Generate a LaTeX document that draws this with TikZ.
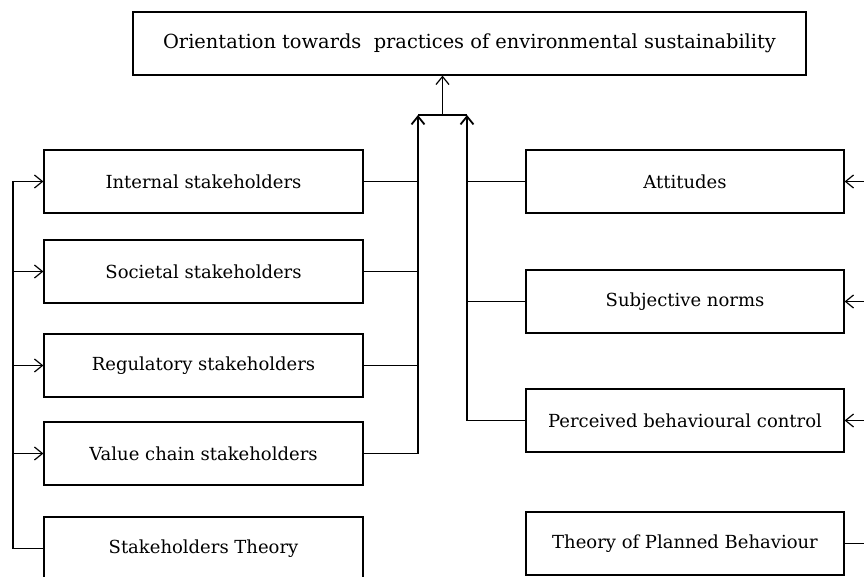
\documentclass[tikz,border=0pt]{standalone}
\usepackage{fontspec}
\setmainfont{DejaVu Serif}
\usetikzlibrary{arrows.meta}

\tikzset{
  factor/.style={draw, line width=1.2pt, minimum width=319pt, minimum height=63pt, inner sep=0pt},
  link/.style={line width=1.2pt},
  thicklink/.style={line width=1.8pt}
}

\begin{document}
\begin{tikzpicture}[x=1pt, y=-1pt, font=\fontsize{18}{21}\selectfont,
    >={Straight Barb[length=8pt,width=13pt]}]
    \useasboundingbox (0,0) rectangle (864,577);
    \clip (0,0) rectangle (864,577);
    \node[factor, minimum width=673pt, font=\fontsize{19.4}{23}\selectfont] (goal) at (469.5,43.5) {Orientation towards\ \ practices of environmental sustainability};
    \node[factor] (internal) at (203.5,181.5) {Internal stakeholders};
    \node[factor] (societal) at (203.5,271.5) {Societal stakeholders};
    \node[factor] (regulatory) at (203.5,365.5) {Regulatory stakeholders};
    \node[factor] (valuechain) at (203.5,453.5) {Value chain stakeholders};
    \node[factor] (stakeholders) at (203.5,548.5) {Stakeholders Theory};
    \node[factor, minimum width=318pt] (attitudes) at (685,181.5) {Attitudes};
    \node[factor, minimum width=318pt] (norms) at (685,301.5) {Subjective norms};
    \node[factor, minimum width=318pt] (control) at (685,420.5) {Perceived behavioural control};
    \node[factor, minimum width=318pt] (planned) at (685,543.5) {Theory of Planned Behaviour};
    \coordinate (join) at (442.5,115);
    \coordinate (leftbus) at (418,115);
    \coordinate (rightbus) at (467,115);
    \coordinate (leftspine) at (13,548.5);
    \coordinate (rightspine) at (880,543.5);
    \draw[link, ->] (join) -- (join |- goal.south);
    \draw[link] (leftbus) -- (rightbus);
    \draw[thicklink, ->] (leftbus |- valuechain.east) -- (leftbus);
    \draw[thicklink, ->] (rightbus |- control.west) -- (rightbus);
    \foreach \n in {internal, societal, regulatory, valuechain}
      \draw[link] (\n.east) -- (leftbus |- \n.east);
    \foreach \n in {attitudes, norms, control}
      \draw[link] (\n.west) -- (rightbus |- \n.west);
    \draw[thicklink] (stakeholders.west) -- (leftspine);
    \draw[link] (leftspine) -- (leftspine |- internal.west);
    \foreach \n in {internal, societal, regulatory, valuechain}
      \draw[link, ->] (leftspine |- \n.west) -- (\n.west);
    \draw[thicklink] (planned.east) -- (rightspine);
    \draw[link] (rightspine) -- (rightspine |- attitudes.east);
    \foreach \n in {attitudes, norms, control}
      \draw[link, ->] (rightspine |- \n.east) -- (\n.east);
  \end{tikzpicture}
\end{document}
